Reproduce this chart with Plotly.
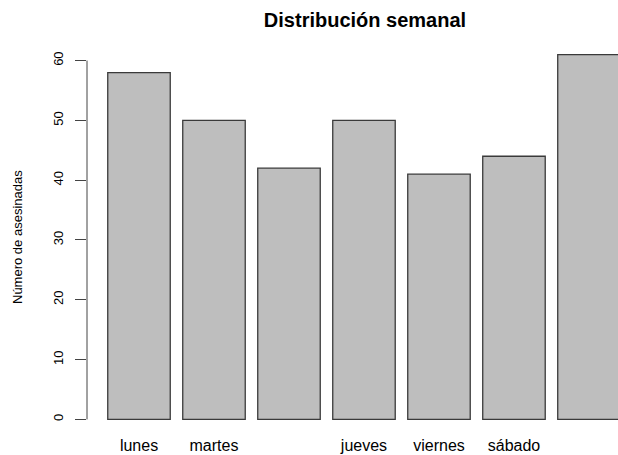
import plotly.graph_objects as go

# Weekly distribution data
dias = ["lunes", "martes", "miércoles", "jueves", "viernes", "sábado", "domingo"]
asesinadas = [58, 50, 42, 50, 41, 44, 61]
# Labels shown under the bars (crowded ones left out)
etiquetas = ["lunes", "martes", "", "jueves", "viernes", "sábado", ""]
y_ticks = [0, 10, 20, 30, 40, 50, 60]

FONT = "Liberation Sans, Arial, Helvetica, sans-serif"

fig = go.Figure(
    go.Bar(
        x=dias,
        y=asesinadas,
        marker=dict(color="#BEBEBE", line=dict(color="#3a3a3a", width=1.3)),
        hoverinfo="x+y",
    )
)

fig.update_layout(
    width=618,
    height=455,
    margin=dict(l=87, r=0, t=40, b=21),
    paper_bgcolor="white",
    plot_bgcolor="white",
    bargap=0.1667,
    showlegend=False,
    font=dict(family=FONT, color="black"),
    title=dict(
        text="<b>Distribución semanal</b>",
        font=dict(family=FONT, size=20, color="black"),
        xref="container", x=365 / 618, xanchor="center",
        yref="container", y=1 - 20 / 455, yanchor="middle",
    ),
    xaxis=dict(
        range=[-0.6933, 6.387],
        tickmode="array",
        tickvals=dias,
        ticktext=etiquetas,
        ticks="",
        showline=False,
        showgrid=False,
        zeroline=False,
        tickfont=dict(family=FONT, size=16, color="black"),
    ),
    yaxis=dict(
        range=[-2.44, 63.44],
        tickmode="array",
        tickvals=y_ticks,
        ticks="outside",
        ticklen=11,
        tickwidth=1,
        tickcolor="#444444",
        tickangle=-90,
        ticklabelstandoff=7,
        showline=False,
        showgrid=False,
        zeroline=False,
        tickfont=dict(family=FONT, size=13, color="black"),
    ),
    shapes=[
        dict(
            type="line", xref="paper", yref="y",
            x0=0, x1=0, y0=y_ticks[0], y1=y_ticks[-1],
            line=dict(color="#444444", width=1),
        )
    ],
    annotations=[
        dict(
            text="Número de asesinadas",
            xref="paper", yref="paper",
            x=0, y=0.5, xanchor="center", yanchor="middle",
            xshift=-70, textangle=-90, showarrow=False,
            font=dict(family=FONT, size=13, color="black"),
        )
    ],
)

fig.write_html("out.html")
